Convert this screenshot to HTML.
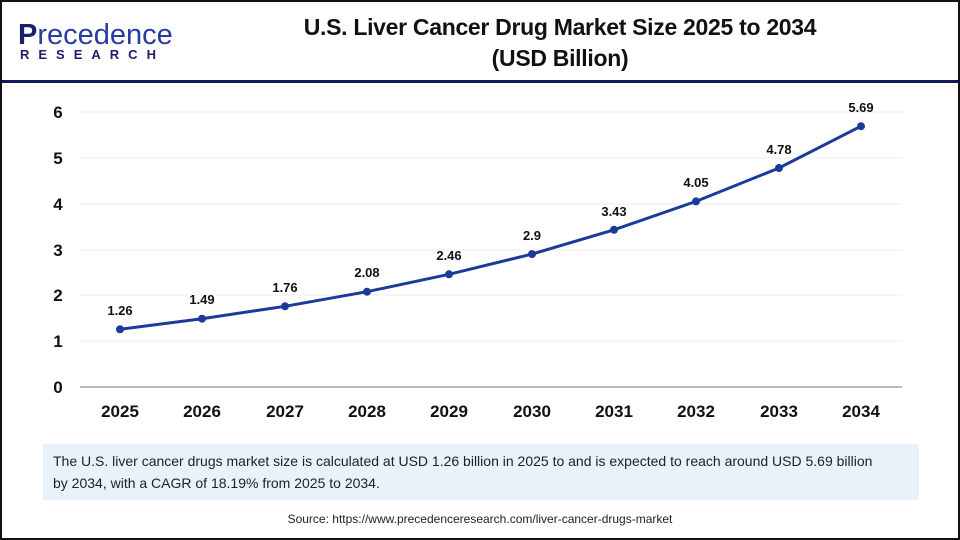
<!DOCTYPE html>
<html><head><meta charset="utf-8"><style>
html,body{margin:0;padding:0;background:#fff}
.wrap{position:relative;width:960px;height:540px;box-sizing:border-box;border:2px solid #111;font-family:"Liberation Sans",sans-serif;overflow:hidden}
.title{position:absolute;left:258px;width:600px;top:10px;text-align:center;font-weight:bold;font-size:23px;line-height:31px;color:#111;letter-spacing:-0.3px}
.hr{position:absolute;left:0;right:0;top:78px;height:3px;background:#14195a}
.box{position:absolute;left:41px;top:442px;width:876px;height:56px;background:#e9f1fa;font-size:14px;line-height:22px;color:#222;padding:6px 10px;box-sizing:border-box;white-space:nowrap}
.src{position:absolute;left:0;right:0;top:510px;text-align:center;font-size:12px;color:#222}
</style></head><body><div class="wrap">
<div style="position:absolute;left:16px;top:18px;font-size:29px;color:#1b1f6b;font-weight:bold;line-height:30px">P<span style="font-weight:normal;color:#2a3aa0">recedence</span></div>
<div style="position:absolute;left:18px;top:45px;font-size:13px;font-weight:bold;color:#1b1f6b;letter-spacing:9px">RESEARCH</div>
<div class="title">U.S. Liver Cancer Drug Market Size 2025 to 2034<br>(USD Billion)</div>
<div class="hr"></div>
<svg style="position:absolute;left:-2px;top:-2px" width="960" height="540" font-family="Liberation Sans, sans-serif">
<g stroke="#ececec" stroke-width="1">
<line x1="80" x2="902" y1="112" y2="112"/><line x1="80" x2="902" y1="158" y2="158"/><line x1="80" x2="902" y1="204" y2="204"/><line x1="80" x2="902" y1="250" y2="250"/><line x1="80" x2="902" y1="295" y2="295"/><line x1="80" x2="902" y1="341" y2="341"/>
</g>
<line x1="80" x2="902" y1="387" y2="387" stroke="#bbb" stroke-width="2"/>
<g font-size="17" font-weight="bold" fill="#111" text-anchor="middle">
<text x="58" y="393">0</text><text x="58" y="347">1</text><text x="58" y="301">2</text><text x="58" y="256">3</text><text x="58" y="210">4</text><text x="58" y="164">5</text><text x="58" y="118">6</text>
<text x="120" y="417">2025</text><text x="202" y="417">2026</text><text x="285" y="417">2027</text><text x="367" y="417">2028</text><text x="449" y="417">2029</text><text x="532" y="417">2030</text><text x="614" y="417">2031</text><text x="696" y="417">2032</text><text x="779" y="417">2033</text><text x="861" y="417">2034</text>
</g>
<polyline fill="none" stroke="#1c3a9a" stroke-width="3" points="120,329.3 202,318.7 285,306.3 367,291.7 449,274.3 532,254.1 614,229.8 696,201.4 779,168 861,126.2"/>
<g fill="#1c3a9a">
<circle cx="120" cy="329.3" r="4"/><circle cx="202" cy="318.7" r="4"/><circle cx="285" cy="306.3" r="4"/><circle cx="367" cy="291.7" r="4"/><circle cx="449" cy="274.3" r="4"/><circle cx="532" cy="254.1" r="4"/><circle cx="614" cy="229.8" r="4"/><circle cx="696" cy="201.4" r="4"/><circle cx="779" cy="168" r="4"/><circle cx="861" cy="126.2" r="4"/>
</g>
<g font-size="13" font-weight="bold" fill="#111" text-anchor="middle">
<text x="120" y="315">1.26</text><text x="202" y="304">1.49</text><text x="285" y="292">1.76</text><text x="367" y="277">2.08</text><text x="449" y="260">2.46</text><text x="532" y="240">2.9</text><text x="614" y="216">3.43</text><text x="696" y="187">4.05</text><text x="779" y="154">4.78</text><text x="861" y="112">5.69</text>
</g>
</svg>
<div class="box">The U.S. liver cancer drugs market size is calculated at USD 1.26 billion in 2025 to and is expected to reach around USD 5.69 billion<br>by 2034, with a CAGR of 18.19% from 2025 to 2034.</div>
<div class="src">Source: https://www.precedenceresearch.com/liver-cancer-drugs-market</div>
</div></body></html>
